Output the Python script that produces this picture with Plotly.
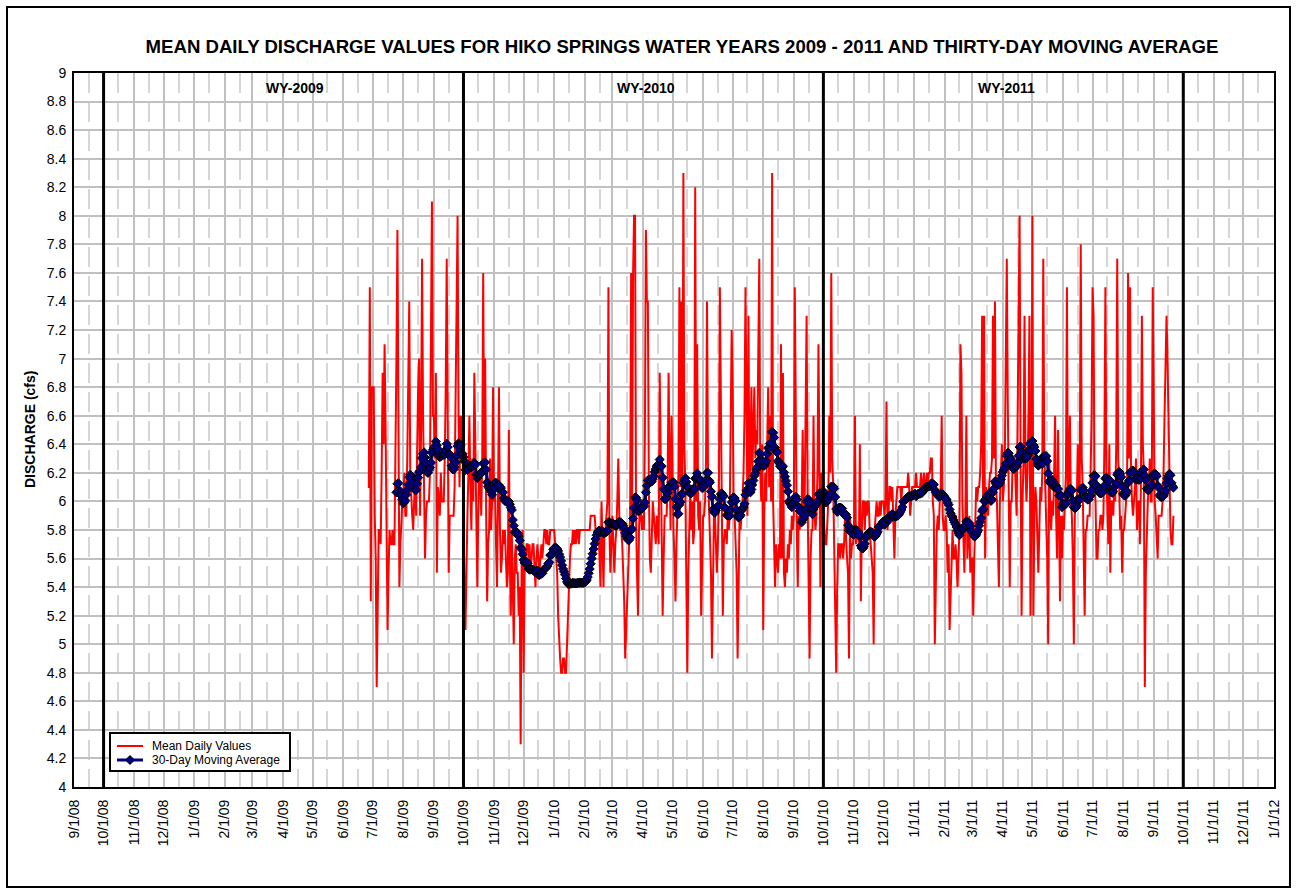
import pandas as pd
import plotly.graph_objects as go

# Mean daily discharge (cfs), Hiko Springs, one list per month
jun09 = [6.1, 6.1, 7.5, 5.3, 6.8]  # starts 6/26/09
jul09 = [6.8, 6.8, 5.9, 5.6, 4.7, 5.3, 5.8, 5.8, 5.7, 6.2, 6.9, 6.4, 7.1, 6.5, 5.9, 5.1, 5.5, 5.8, 5.7, 5.7,
         5.8, 5.7, 5.7, 6.7, 7.0, 7.9, 6.2, 5.4, 5.7, 5.9, 6.0]
aug09 = [6.0, 6.2, 5.9, 5.9, 6.3, 6.9, 7.4, 6.2, 6.0, 5.9, 5.8, 6.0, 6.2, 5.9, 6.4, 6.8, 7.0, 5.9, 6.5, 7.7,
         6.6, 6.0, 5.6, 5.9, 6.0, 6.0, 6.0, 6.2, 6.9, 8.1, 6.6]
sep09 = [6.6, 6.3, 6.9, 5.5, 6.1, 6.0, 5.9, 6.2, 6.0, 6.0, 6.0, 6.3, 6.8, 7.7, 6.1, 5.5, 5.9, 5.9, 5.9, 5.9,
         5.9, 6.1, 6.9, 7.4, 8.0, 6.6, 6.1, 6.6, 6.3, 6.6]
oct09 = [5.9, 5.4, 5.1, 5.7, 5.9, 6.2, 6.6, 6.1, 5.8, 6.3, 6.0, 6.9, 6.4, 5.6, 5.4, 5.9, 6.2, 6.2, 5.9, 6.3,
         7.6, 6.2, 7.0, 5.9, 5.3, 5.7, 5.8, 6.3, 5.8, 6.0, 6.8]
nov09 = [6.0, 6.1, 5.7, 5.4, 6.0, 6.8, 5.8, 5.5, 5.6, 5.8, 5.7, 5.8, 5.6, 5.4, 5.5, 6.5, 5.6, 5.2, 5.8, 5.5,
         5.0, 5.6, 5.7, 5.5, 5.5, 5.2, 5.4, 4.3, 5.6, 5.8]
dec09 = [4.8, 5.5, 5.6, 5.7, 5.7, 5.6, 5.7, 5.5, 5.6, 5.7, 5.7, 5.5, 5.4, 5.6, 5.7, 5.6, 5.5, 5.6, 5.7, 5.6,
         5.7, 5.8, 5.8, 5.7, 5.8, 5.7, 5.7, 5.8, 5.8, 5.8, 5.8]
jan10 = [5.8, 5.7, 5.6, 5.5, 5.2, 5.0, 4.9, 4.8, 4.8, 4.9, 4.9, 4.8, 4.8, 5.0, 5.2, 5.5, 5.6, 5.7, 5.7, 5.8,
         5.7, 5.8, 5.7, 5.8, 5.8, 5.7, 5.8, 5.8, 5.8, 5.8, 5.8]
feb10 = [5.8, 5.8, 5.8, 5.8, 5.8, 5.8, 5.9, 5.9, 5.9, 5.9, 5.9, 5.8, 5.8, 5.8, 5.8, 5.6, 5.4, 6.0, 5.7, 5.4,
         5.8, 5.8, 5.9, 6.0, 7.5, 5.8, 5.5, 5.8]
mar10 = [5.9, 5.7, 5.5, 5.7, 5.8, 6.0, 6.3, 5.9, 5.8, 5.8, 5.7, 5.5, 5.3, 4.9, 5.1, 5.3, 5.5, 5.6, 5.9, 7.6,
         5.9, 7.6, 8.0, 8.0, 5.9, 5.5, 5.2, 5.8, 6.0, 5.9, 5.8]
apr10 = [5.9, 5.8, 6.5, 7.9, 7.4, 7.4, 6.1, 5.6, 5.5, 5.8, 6.0, 5.9, 5.8, 5.7, 5.9, 5.8, 5.7, 6.9, 6.2, 5.9,
         5.2, 5.6, 5.9, 5.9, 5.9, 6.1, 6.9, 6.3, 5.8, 6.6]
may10 = [6.0, 5.8, 5.6, 5.3, 5.7, 5.9, 6.2, 7.5, 6.1, 7.4, 6.0, 8.3, 6.4, 6.1, 5.1, 4.8, 5.5, 5.9, 6.1, 5.8,
         6.0, 5.7, 5.8, 8.2, 6.0, 7.1, 5.9, 5.8, 6.0, 5.2, 5.6]
jun10 = [5.9, 5.9, 6.0, 6.3, 7.4, 6.2, 5.9, 5.7, 5.5, 4.9, 5.6, 5.9, 5.9, 5.6, 5.5, 5.7, 6.0, 7.5, 6.8, 6.2,
         5.2, 5.7, 5.8, 5.8, 5.7, 5.9, 5.8, 5.9, 6.4, 7.2]
jul10 = [6.8, 6.0, 5.9, 5.7, 5.5, 4.9, 5.6, 5.9, 5.8, 5.9, 6.0, 6.2, 6.6, 7.5, 6.4, 5.9, 7.3, 6.1, 6.3, 6.8,
         6.2, 6.6, 6.8, 6.3, 6.5, 6.4, 7.0, 7.7, 6.2, 6.0, 6.4]
aug10 = [5.1, 5.9, 6.2, 6.0, 6.4, 6.8, 6.1, 6.6, 6.0, 8.3, 6.0, 5.6, 5.4, 5.7, 5.6, 5.5, 5.7, 5.6, 7.1, 5.6,
         6.9, 5.5, 5.4, 5.6, 5.5, 5.7, 5.6, 5.8, 5.7, 5.9, 5.8]
sep10 = [5.9, 7.5, 6.2, 5.8, 5.4, 5.9, 5.8, 5.9, 6.0, 6.5, 5.9, 6.0, 7.0, 7.3, 6.0, 5.6, 4.9, 5.6, 5.8, 5.8,
         6.6, 5.9, 5.8, 5.9, 6.2, 7.1, 6.0, 5.4, 6.2, 6.1]
oct10 = [6.0, 5.8, 5.7, 5.7, 5.9, 6.0, 6.6, 6.2, 7.6, 6.3, 6.1, 5.6, 5.2, 4.8, 5.4, 5.7, 5.7, 5.6, 5.7, 5.7,
         5.6, 5.7, 5.9, 5.7, 5.6, 5.5, 4.9, 5.9, 5.6, 5.7, 5.7]
nov10 = [5.8, 6.6, 5.7, 5.8, 5.8, 5.7, 6.4, 5.3, 5.8, 6.0, 6.0, 5.8, 6.0, 5.9, 6.0, 6.0, 5.8, 5.7, 5.6, 5.5,
         5.0, 5.8, 5.9, 6.0, 5.9, 5.9, 6.0, 5.9, 6.0, 6.0]
dec10 = [6.0, 5.9, 6.0, 6.7, 5.8, 5.9, 6.1, 6.1, 6.0, 6.1, 5.8, 5.6, 5.9, 6.0, 6.1, 6.1, 6.1, 6.1, 6.0, 6.1,
         6.1, 6.1, 6.1, 6.1, 6.1, 6.2, 6.1, 5.9, 6.0, 6.1, 6.1]
jan11 = [6.1, 6.1, 6.2, 6.1, 6.1, 6.1, 6.1, 6.2, 6.1, 6.1, 6.2, 6.1, 6.1, 6.2, 6.1, 6.2, 6.2, 6.3, 6.3, 6.0,
         5.9, 5.0, 5.6, 5.8, 5.9, 5.8, 6.0, 6.1, 6.6, 5.9, 5.8]
feb11 = [5.8, 5.9, 5.8, 5.5, 5.7, 5.1, 5.4, 5.6, 5.8, 5.6, 5.6, 5.7, 5.6, 5.4, 5.6, 5.8, 7.1, 6.9, 6.0, 5.8,
         5.5, 5.9, 6.6, 5.6, 5.8, 5.9, 5.5, 5.6]
mar11 = [5.6, 5.2, 5.6, 5.9, 6.1, 6.0, 6.1, 6.1, 6.2, 6.4, 7.3, 6.0, 7.3, 5.6, 6.1, 6.0, 5.9, 6.1, 6.2, 6.2,
         6.3, 7.3, 6.3, 7.4, 6.1, 6.0, 5.7, 5.4, 6.0, 6.2, 6.4]
apr11 = [6.0, 6.1, 6.3, 6.9, 7.7, 6.7, 6.0, 5.4, 6.0, 6.0, 6.3, 6.2, 6.3, 6.1, 5.9, 6.6, 7.6, 8.0, 6.3, 5.2,
         6.0, 6.3, 7.3, 6.2, 6.0, 6.2, 6.6, 7.3, 5.2, 6.0]
may11 = [8.0, 5.2, 5.9, 6.1, 6.0, 5.8, 5.5, 5.8, 6.1, 6.0, 6.2, 7.7, 6.4, 6.1, 5.9, 5.6, 5.0, 6.3, 6.0, 5.8,
         6.0, 5.9, 6.2, 6.6, 5.9, 5.6, 6.5, 5.9, 5.3, 5.9, 5.6]
jun11 = [5.9, 5.8, 6.0, 6.2, 7.5, 6.0, 6.2, 6.6, 6.0, 5.9, 5.6, 5.0, 5.9, 6.0, 6.0, 6.4, 6.1, 6.1, 7.8, 6.3,
         6.1, 5.6, 5.2, 5.8, 5.8, 5.9, 5.9, 5.9, 6.2, 6.6]
jul11 = [7.5, 7.3, 6.1, 6.0, 5.6, 5.6, 5.8, 5.8, 5.9, 5.9, 5.8, 5.9, 6.4, 7.5, 6.2, 6.0, 5.7, 6.4, 5.5, 6.0,
         6.0, 5.9, 6.1, 6.0, 6.4, 7.7, 6.3, 6.1, 5.8, 5.9, 5.5]
aug11 = [5.8, 5.8, 5.9, 6.0, 6.1, 7.6, 6.3, 7.5, 6.2, 6.0, 5.9, 6.0, 6.1, 6.3, 5.8, 6.0, 6.0, 5.7, 6.1, 7.3,
         6.4, 6.2, 4.7, 5.5, 5.9, 6.0, 6.1, 6.3, 6.0, 6.0, 7.5]
sep11 = [6.3, 6.0, 5.9, 5.7, 5.6, 5.9, 5.9, 5.9, 5.9, 6.0, 6.2, 6.6, 6.9, 7.3, 7.0, 6.6, 6.1, 5.8, 5.7, 5.7,
         5.9]

months = [
    ("2009-06-26", jun09), ("2009-07-01", jul09), ("2009-08-01", aug09), ("2009-09-01", sep09),
    ("2009-10-01", oct09), ("2009-11-01", nov09), ("2009-12-01", dec09), ("2010-01-01", jan10),
    ("2010-02-01", feb10), ("2010-03-01", mar10), ("2010-04-01", apr10), ("2010-05-01", may10),
    ("2010-06-01", jun10), ("2010-07-01", jul10), ("2010-08-01", aug10), ("2010-09-01", sep10),
    ("2010-10-01", oct10), ("2010-11-01", nov10), ("2010-12-01", dec10), ("2011-01-01", jan11),
    ("2011-02-01", feb11), ("2011-03-01", mar11), ("2011-04-01", apr11), ("2011-05-01", may11),
    ("2011-06-01", jun11), ("2011-07-01", jul11), ("2011-08-01", aug11), ("2011-09-01", sep11),
]

parts = [pd.Series(vals, index=pd.date_range(start, periods=len(vals), freq="D")) for start, vals in months]
daily = pd.concat(parts)
moving_avg = daily.rolling(30).mean().dropna()

water_year_starts = ["2008-10-01", "2009-10-01", "2010-10-01", "2011-10-01"]
water_year_labels = ["WY-2009", "WY-2010", "WY-2011"]
water_year_label_x = [0.184, 0.477, 0.777]

FONT = "Liberation Sans, Arial, sans-serif"
RED = "#FF0000"
NAVY = "#000080"

# plot area in pixels: left 74, right 1274, top 73, bottom 787
def px(xp):
    return (xp - 74) / 1200.0


def py(yp):
    return (787 - yp) / 714.0


fig = go.Figure()
fig.add_trace(go.Scatter(
    x=daily.index, y=daily.values, mode="lines", name="Mean Daily Values",
    line=dict(color=RED, width=2),
))
fig.add_trace(go.Scatter(
    x=moving_avg.index, y=moving_avg.values, mode="lines+markers", name="30-Day Moving Average",
    line=dict(color=NAVY, width=3),
    marker=dict(symbol="diamond", size=7, color=NAVY, line=dict(color="#000000", width=1)),
))

shapes = []
for d in water_year_starts:
    shapes.append(dict(type="line", xref="x", yref="paper", x0=d, x1=d, y0=0, y1=1,
                       line=dict(color="black", width=3), layer="above"))
# outer frame of the chart
shapes.append(dict(type="rect", xref="paper", yref="paper", x0=px(7), x1=px(1290), y0=py(887), y1=py(7),
                   line=dict(color="black", width=2), fillcolor="rgba(0,0,0,0)", layer="above"))

# legend box with its two samples
shapes.append(dict(type="rect", xref="paper", yref="paper", x0=px(110), x1=px(290), y0=py(771), y1=py(733),
                   line=dict(color="black", width=2), fillcolor="white", layer="above"))
shapes.append(dict(type="line", xref="paper", yref="paper", x0=px(117), x1=px(143), y0=py(746), y1=py(746),
                   line=dict(color=RED, width=2), layer="above"))
shapes.append(dict(type="line", xref="paper", yref="paper", x0=px(117), x1=px(143), y0=py(760), y1=py(760),
                   line=dict(color=NAVY, width=3), layer="above"))
shapes.append(dict(type="path", xref="paper", yref="paper",
                   path=f"M {px(130)} {py(755.5)} L {px(134.5)} {py(760)} L {px(130)} {py(764.5)} "
                        f"L {px(125.5)} {py(760)} Z",
                   line=dict(color="black", width=1), fillcolor=NAVY, layer="above"))

annotations = []
for lab, xp in zip(water_year_labels, water_year_label_x):
    annotations.append(dict(text=f"<b>{lab}</b>", xref="paper", yref="paper", x=xp, y=py(88),
                            xanchor="center", yanchor="middle",
                            showarrow=False, font=dict(family=FONT, size=14, color="black")))
annotations.append(dict(text="<b>DISCHARGE (cfs)</b>", xref="paper", yref="paper", x=px(30), y=0.5,
                        xanchor="center", yanchor="middle",
                        textangle=-90, showarrow=False, font=dict(family=FONT, size=14, color="black")))
for txt, yp in [("Mean Daily Values", 746), ("30-Day Moving Average", 760)]:
    annotations.append(dict(text=txt, xref="paper", yref="paper", x=px(150), y=py(yp),
                            xanchor="left", yanchor="middle", showarrow=False,
                            font=dict(family=FONT, size=12, color="black")))

fig.update_layout(
    width=1297, height=893, autosize=False,
    margin=dict(l=74, r=23, t=73, b=106),
    paper_bgcolor="white", plot_bgcolor="white",
    font=dict(family=FONT, color="black"),
    title=dict(text="<b>MEAN DAILY DISCHARGE VALUES FOR HIKO SPRINGS WATER YEARS 2009 - 2011 AND THIRTY-DAY MOVING AVERAGE</b>",
               x=682 / 1297, xanchor="center", y=1 - 46 / 893, yanchor="middle",
               font=dict(family=FONT, size=18.6, color="black")),
    showlegend=False,
    shapes=shapes,
    annotations=annotations,
    hovermode=False,
)

fig.update_xaxes(
    type="date", range=["2008-09-01", "2012-01-01"],
    tick0="2008-09-01", dtick="M1", tickformat="%-m/%-d/%y", tickangle=-90,
    tickfont=dict(family=FONT, size=14, color="black"), ticks="", ticklabelstandoff=5,
    showgrid=True, gridcolor="#c0c0c0", gridwidth=2,
    minor=dict(tick0="2008-09-16", dtick="M1", showgrid=True, gridcolor="#d6d6d6", gridwidth=2,
               griddash="20px,9px"),
    showline=True, linecolor="black", linewidth=2, mirror=True, zeroline=False,
)
fig.update_yaxes(
    range=[4, 9], dtick=0.2, tick0=4,
    tickfont=dict(family=FONT, size=14, color="black"), ticks="", ticklabelstandoff=3,
    showgrid=True, gridcolor="#c0c0c0", gridwidth=2,
    showline=True, linecolor="black", linewidth=2, mirror=True, zeroline=False,
)

fig.write_html("out.html", config={"displayModeBar": False})
